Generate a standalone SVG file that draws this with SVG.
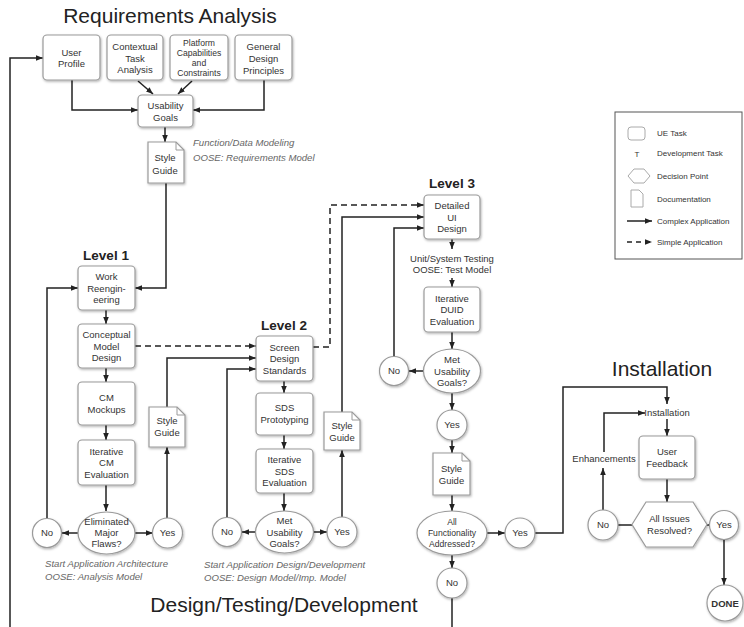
<svg xmlns="http://www.w3.org/2000/svg" width="744" height="627" viewBox="0 0 744 627">
  <defs>
    <style>
      .box { fill: #fff; stroke: #9a9a9a; stroke-width: 1.2; filter: url(#sh); }
      .t { font-family: "Liberation Sans", Arial, sans-serif; font-size: 9.5px; fill: #333; text-anchor: middle; }
      .ts { font-family: "Liberation Sans", Arial, sans-serif; font-size: 8.6px; fill: #333; text-anchor: middle; }
      .lg { font-family: "Liberation Sans", Arial, sans-serif; font-size: 8px; fill: #333; }
      .it { font-family: "Liberation Sans", Arial, sans-serif; font-size: 9.6px; fill: #666; font-style: italic; }
      .h1 { font-family: "Liberation Sans", Arial, sans-serif; font-size: 21px; fill: #222; text-anchor: middle; }
      .h2 { font-family: "Liberation Sans", Arial, sans-serif; font-size: 13.5px; font-weight: bold; fill: #222; text-anchor: middle; }
      .c { fill: none; stroke: #222; stroke-width: 1.5; marker-end: url(#ah); }
      .cn { fill: none; stroke: #222; stroke-width: 1.5; }
      .d { fill: none; stroke: #222; stroke-width: 1.5; stroke-dasharray: 6 4; marker-end: url(#ah); }
      .dn { fill: none; stroke: #222; stroke-width: 1.5; stroke-dasharray: 6 4; }
      .fold { fill: none; stroke: #9a9a9a; stroke-width: 1; }
    </style>
    <marker id="ah" viewBox="0 0 10 10" refX="10" refY="5" markerWidth="7" markerHeight="7" markerUnits="userSpaceOnUse" orient="auto">
      <path d="M0,1 L10,5 L0,9 z" fill="#222"/>
    </marker>
    <filter id="sh" x="-15%" y="-15%" width="140%" height="150%">
      <feDropShadow dx="0.8" dy="1.3" stdDeviation="1.1" flood-color="#000" flood-opacity="0.3"/>
    </filter>
  </defs>

  <rect width="744" height="627" fill="#fff"/>

  <!-- Section titles -->
  <text class="h1" x="170" y="23">Requirements Analysis</text>
  <text class="h1" x="662" y="376">Installation</text>
  <text class="h1" x="284" y="612">Design/Testing/Development</text>
  <text class="h2" x="106" y="260">Level 1</text>
  <text class="h2" x="284" y="330">Level 2</text>
  <text class="h2" x="452" y="188">Level 3</text>

  <!-- Annotations -->
  <text class="it" x="193" y="146">Function/Data Modeling</text>
  <text class="it" x="193" y="161">OOSE: Requirements Model</text>
  <text class="it" x="45" y="567">Start Application Architecture</text>
  <text class="it" x="45" y="580">OOSE: Analysis Model</text>
  <text class="it" x="204" y="568">Start Application Design/Development</text>
  <text class="it" x="204" y="581">OOSE: Design Model/Imp. Model</text>

  <!-- Connectors -->
  <g id="connectors">
    <path class="c" d="M138,81 L153,94"/>
    <path class="c" d="M192,81 L178,94"/>
    <path class="c" d="M72,80 V110 H138"/>
    <path class="c" d="M264,80 V110 H193"/>
    <path class="c" d="M165,127 V142"/>
    <path class="c" d="M166,183 V288 H135"/>
    <path class="c" d="M10,627 V58 H43"/>

    <path class="c" d="M106,310 V324"/>
    <path class="c" d="M106,368 V382"/>
    <path class="c" d="M106,425 V440"/>
    <path class="c" d="M106,485 V511"/>
    <path class="c" d="M78,533 H62"/>
    <path class="c" d="M135,533 H153"/>
    <path class="c" d="M47,518 V288 H78"/>
    <path class="c" d="M167,518 V447"/>
    <path class="c" d="M167,407 V358 H256"/>
    <path class="d" d="M135,346 H256"/>

    <path class="c" d="M284,381 V393"/>
    <path class="c" d="M284,435 V449"/>
    <path class="c" d="M284,493 V511"/>
    <path class="c" d="M255,532 H242"/>
    <path class="c" d="M313,532 H327"/>
    <path class="c" d="M227,517 V369 H256"/>
    <path class="c" d="M342,517 V450"/>
    <path class="c" d="M342,412 V217 H424"/>
    <path class="d" d="M313,347 H330 V205 H424"/>

    <path class="c" d="M452,239 V249"/>
    <path class="c" d="M452,278 V287"/>
    <path class="c" d="M452,332 V349"/>
    <path class="c" d="M424,371 H409"/>
    <path class="c" d="M394,357 V228 H424"/>
    <path class="c" d="M452,393 V410"/>
    <path class="c" d="M452,440 V453"/>
    <path class="c" d="M452,495 V511"/>
    <path class="c" d="M487,533 H505"/>
    <path class="c" d="M452,555 V568"/>
    <path class="cn" d="M452,598 V627"/>

    <path class="c" d="M535,533 H563 V387 H667 V404"/>
    <path class="c" d="M667,419 V436"/>
    <path class="c" d="M667,479 V502"/>
    <path class="cn" d="M618,525 H632"/>
    <path class="cn" d="M707,525 H709"/>
    <path class="c" d="M603,510 V468"/>
    <path class="c" d="M604,452 V413 H645"/>
    <path class="c" d="M724,540 V585"/>
  </g>

  <!-- Requirements analysis -->
  <g id="user-profile">
    <rect class="box" x="43" y="35" width="57" height="45" rx="4"/>
    <text class="t" x="71.5" y="55.5">User</text>
    <text class="t" x="71.5" y="67">Profile</text>
  </g>
  <g id="contextual-task-analysis">
    <rect class="box" x="107" y="35" width="56" height="45" rx="4"/>
    <text class="t" x="135" y="50">Contextual</text>
    <text class="t" x="135" y="61.5">Task</text>
    <text class="t" x="135" y="73">Analysis</text>
  </g>
  <g id="platform-capabilities">
    <rect class="box" x="170" y="35" width="58" height="45" rx="4"/>
    <text class="ts" x="199" y="46">Platform</text>
    <text class="ts" x="199" y="56">Capabilities</text>
    <text class="ts" x="199" y="66">and</text>
    <text class="ts" x="199" y="76">Constraints</text>
  </g>
  <g id="general-design-principles">
    <rect class="box" x="235" y="35" width="57" height="45" rx="4"/>
    <text class="t" x="263.5" y="50">General</text>
    <text class="t" x="263.5" y="62">Design</text>
    <text class="t" x="263.5" y="74">Principles</text>
  </g>
  <g id="usability-goals">
    <rect class="box" x="138" y="95" width="55" height="32" rx="4"/>
    <text class="t" x="165.5" y="109">Usability</text>
    <text class="t" x="165.5" y="121">Goals</text>
  </g>
  <g id="style-guide-req">
    <path class="box" d="M148,142 H176 L184,150 V183 H148 Z"/>
    <path class="fold" d="M176,142 V150 H184"/>
    <text class="t" x="165" y="161">Style</text>
    <text class="t" x="165" y="174">Guide</text>
  </g>

  <!-- Level 1 -->
  <g id="work-reengineering">
    <rect class="box" x="78" y="266" width="57" height="44" rx="4"/>
    <text class="t" x="106.5" y="280">Work</text>
    <text class="t" x="106.5" y="291.5">Reengin-</text>
    <text class="t" x="106.5" y="303">eering</text>
  </g>
  <g id="conceptual-model-design">
    <rect class="box" x="78" y="324" width="57" height="44" rx="4"/>
    <text class="t" x="106.5" y="338">Conceptual</text>
    <text class="t" x="106.5" y="349.5">Model</text>
    <text class="t" x="106.5" y="361">Design</text>
  </g>
  <g id="cm-mockups">
    <rect class="box" x="78" y="382" width="57" height="43" rx="4"/>
    <text class="t" x="106.5" y="401">CM</text>
    <text class="t" x="106.5" y="413">Mockups</text>
  </g>
  <g id="iterative-cm-evaluation">
    <rect class="box" x="78" y="440" width="57" height="45" rx="4"/>
    <text class="t" x="106.5" y="454.5">Iterative</text>
    <text class="t" x="106.5" y="466">CM</text>
    <text class="t" x="106.5" y="477.5">Evaluation</text>
  </g>
  <g id="eliminated-major-flaws">
    <ellipse class="box" cx="106.5" cy="533" rx="28.5" ry="21"/>
    <text class="t" x="106.5" y="525.4">Eliminated</text>
    <text class="t" x="106.5" y="536.4">Major</text>
    <text class="t" x="106.5" y="547.4">Flaws?</text>
  </g>
  <g id="no-1">
    <circle class="box" cx="47" cy="533" r="14.5"/>
    <text class="t" x="47" y="536.4">No</text>
  </g>
  <g id="yes-1">
    <circle class="box" cx="167.5" cy="533" r="15"/>
    <text class="t" x="167.5" y="536.4">Yes</text>
  </g>
  <g id="style-guide-1">
    <path class="box" d="M149,407 H177 L185,415 V447 H149 Z"/>
    <path class="fold" d="M177,407 V415 H185"/>
    <text class="t" x="167" y="424">Style</text>
    <text class="t" x="167" y="436">Guide</text>
  </g>

  <!-- Level 2 -->
  <g id="screen-design-standards">
    <rect class="box" x="256" y="336" width="57" height="45" rx="4"/>
    <text class="t" x="284.5" y="350.5">Screen</text>
    <text class="t" x="284.5" y="362">Design</text>
    <text class="t" x="284.5" y="373.5">Standards</text>
  </g>
  <g id="sds-prototyping">
    <rect class="box" x="256" y="393" width="57" height="42" rx="4"/>
    <text class="t" x="284.5" y="411.4">SDS</text>
    <text class="t" x="284.5" y="423.4">Prototyping</text>
  </g>
  <g id="iterative-sds-evaluation">
    <rect class="box" x="256" y="449" width="57" height="44" rx="4"/>
    <text class="t" x="284.5" y="463">Iterative</text>
    <text class="t" x="284.5" y="474.5">SDS</text>
    <text class="t" x="284.5" y="486">Evaluation</text>
  </g>
  <g id="met-usability-goals-2">
    <ellipse class="box" cx="284.5" cy="532" rx="29" ry="21"/>
    <text class="t" x="284.5" y="524">Met</text>
    <text class="t" x="284.5" y="535.5">Usability</text>
    <text class="t" x="284.5" y="547">Goals?</text>
  </g>
  <g id="no-2">
    <circle class="box" cx="227" cy="532" r="14.5"/>
    <text class="t" x="227" y="535.4">No</text>
  </g>
  <g id="yes-2">
    <circle class="box" cx="342" cy="532" r="15"/>
    <text class="t" x="342" y="535.4">Yes</text>
  </g>
  <g id="style-guide-2">
    <path class="box" d="M324,412 H352 L360,420 V450 H324 Z"/>
    <path class="fold" d="M352,412 V420 H360"/>
    <text class="t" x="342" y="428.5">Style</text>
    <text class="t" x="342" y="440.5">Guide</text>
  </g>

  <!-- Level 3 -->
  <g id="detailed-ui-design">
    <rect class="box" x="424" y="195" width="56" height="44" rx="4"/>
    <text class="t" x="452" y="209">Detailed</text>
    <text class="t" x="452" y="220.5">UI</text>
    <text class="t" x="452" y="232">Design</text>
  </g>
  <g id="unit-system-testing">
    <text class="t" x="452" y="262">Unit/System Testing</text>
    <text class="t" x="452" y="273">OOSE: Test Model</text>
  </g>
  <g id="iterative-duid-evaluation">
    <rect class="box" x="424" y="287" width="56" height="45" rx="4"/>
    <text class="t" x="452" y="301.5">Iterative</text>
    <text class="t" x="452" y="313">DUID</text>
    <text class="t" x="452" y="324.5">Evaluation</text>
  </g>
  <g id="met-usability-goals-3">
    <ellipse class="box" cx="452" cy="371" rx="28.5" ry="22"/>
    <text class="t" x="452" y="363">Met</text>
    <text class="t" x="452" y="374.5">Usability</text>
    <text class="t" x="452" y="386">Goals?</text>
  </g>
  <g id="no-3">
    <circle class="box" cx="394" cy="371" r="14.5"/>
    <text class="t" x="394" y="374.4">No</text>
  </g>
  <g id="yes-3">
    <circle class="box" cx="452" cy="425" r="15"/>
    <text class="t" x="452" y="428.4">Yes</text>
  </g>
  <g id="style-guide-3">
    <path class="box" d="M433,453 H462 L470,461 V495 H433 Z"/>
    <path class="fold" d="M462,453 V461 H470"/>
    <text class="t" x="451.5" y="471.5">Style</text>
    <text class="t" x="451.5" y="483.5">Guide</text>
  </g>
  <g id="all-functionality-addressed">
    <ellipse class="box" cx="452" cy="533" rx="35" ry="22"/>
    <text class="ts" x="452" y="525">All</text>
    <text class="ts" x="452" y="536">Functionality</text>
    <text class="ts" x="452" y="547">Addressed?</text>
  </g>
  <g id="yes-4">
    <circle class="box" cx="520" cy="533" r="15"/>
    <text class="t" x="520" y="536.4">Yes</text>
  </g>
  <g id="no-4">
    <circle class="box" cx="452" cy="583" r="15"/>
    <text class="t" x="452" y="586.4">No</text>
  </g>

  <!-- Installation -->
  <g id="installation">
    <text class="t" x="667" y="416">Installation</text>
  </g>
  <g id="enhancements">
    <text class="t" x="604" y="462">Enhancements</text>
  </g>
  <g id="user-feedback">
    <rect class="box" x="639" y="436" width="56" height="43" rx="4"/>
    <text class="t" x="667" y="455">User</text>
    <text class="t" x="667" y="467">Feedback</text>
  </g>
  <g id="all-issues-resolved">
    <polygon class="box" points="632,524.5 646,502 693,502 707,524.5 693,547 646,547"/>
    <text class="t" x="669.5" y="521.5">All Issues</text>
    <text class="t" x="669.5" y="533.5">Resolved?</text>
  </g>
  <g id="no-5">
    <circle class="box" cx="603" cy="525" r="15"/>
    <text class="t" x="603" y="528.4">No</text>
  </g>
  <g id="yes-5">
    <circle class="box" cx="724" cy="525" r="14.5"/>
    <text class="t" x="724" y="528.4">Yes</text>
  </g>
  <g id="done">
    <circle class="box" cx="725" cy="603" r="18"/>
    <text class="t" x="725" y="606.5" font-weight="bold">DONE</text>
  </g>

  <!-- Legend -->
  <g id="legend">
    <rect x="615" y="112" width="127" height="147" fill="#fff" stroke="#555" stroke-width="1"/>
    <rect x="628" y="127" width="17" height="13" rx="3" fill="#fff" stroke="#aaa" stroke-width="1"/>
    <text class="lg" x="657" y="136">UE Task</text>
    <text class="lg" x="637" y="157" text-anchor="middle">T</text>
    <text class="lg" x="657" y="156">Development Task</text>
    <polygon points="628,176 634,169 644,169 650,176 644,183 634,183" fill="#fff" stroke="#aaa" stroke-width="1"/>
    <text class="lg" x="657" y="179">Decision Point</text>
    <path d="M631,190 H639 L643,194 V207 H631 Z" fill="#fff" stroke="#aaa" stroke-width="1"/>
    <text class="lg" x="657" y="202">Documentation</text>
    <path class="c" d="M627,221 H652"/>
    <text class="lg" x="657" y="224">Complex Application</text>
    <path class="d" d="M627,242 H652" style="stroke-dasharray: 5 4"/>
    <text class="lg" x="657" y="245">Simple Application</text>
  </g>
</svg>
